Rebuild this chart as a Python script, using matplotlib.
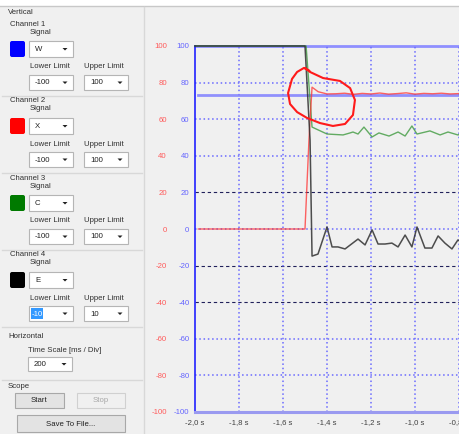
import matplotlib
matplotlib.use("Agg")
import matplotlib.pyplot as plt
from matplotlib.patches import Rectangle, FancyBboxPatch, Polygon

plt.rcParams['font.family'] = ['Liberation Sans', 'DejaVu Sans']

# ---- data ----
x_ticks = [-2.0, -1.8, -1.6, -1.4, -1.2, -1.0, -0.8, -0.6]
x_labels = ['-2,0 s', '-1,8 s', '-1,6 s', '-1,4 s', '-1,2 s', '-1,0 s', '-0,8 s', '-0,6 s']
y_ticks = [-100, -80, -60, -40, -20, 0, 20, 40, 60, 80, 100]
dark_grid = [20, -20, -40]

blue_t = [-1.985, -0.6]
blue_v = [73.2, 73.2]

red_t = [-1.985, -1.500, -1.482, -1.468, -1.440, -1.400, -1.360, -1.320, -1.280, -1.240,
         -1.200, -1.160, -1.120, -1.080, -1.040, -1.000, -0.960, -0.920, -0.880, -0.840,
         -0.800, -0.760]
red_v = [0, 0, 48.6, 77.5, 75.0, 73.8, 73.9, 74.2, 73.6, 74.1,
         73.8, 74.3, 73.7, 74.0, 74.4, 73.7, 74.1, 73.9, 74.2, 73.8,
         74.0, 74.1]

green_t = [-2.0, -1.495, -1.468, -1.400, -1.327, -1.295, -1.282, -1.259, -1.232, -1.195,
           -1.164, -1.118, -1.077, -1.045, -1.014, -0.991, -0.932, -0.886, -0.850, -0.805,
           -0.780]
green_v = [100, 100, 55.7, 51.9, 51.4, 52.5, 53.0, 51.9, 55.7, 50.3,
           52.5, 50.8, 53.0, 50.8, 56.3, 51.9, 53.6, 51.4, 53.0, 51.4,
           52.5]

black_t = [-2.0, -1.500, -1.477, -1.468, -1.441, -1.400, -1.377, -1.350, -1.318, -1.259,
           -1.227, -1.195, -1.168, -1.136, -1.105, -1.077, -1.045, -1.014, -0.991, -0.955,
           -0.923, -0.895, -0.864, -0.832, -0.805, -0.780]
black_v = [100, 100, 48.6, -14.8, -13.7, 1.1, -9.8, -9.8, -10.9, -5.5,
           -8.7, -0.5, -8.2, -8.2, -7.7, -9.8, -3.3, -9.8, 1.1, -10.4,
           -10.4, -3.8, -7.7, -10.9, -6.0, -8.0]

# hand drawn red loop
loop_t = [-1.500, -1.477, -1.418, -1.341, -1.295, -1.273, -1.282, -1.318, -1.373, -1.432,
          -1.491, -1.536, -1.568, -1.577, -1.559, -1.536, -1.505, -1.480]
loop_v = [88.0, 85.8, 82.5, 80.9, 77.0, 70.5, 62.3, 57.4, 56.3, 57.9,
          60.7, 63.9, 68.3, 74.3, 82.0, 85.8, 88.0, 86.5]

# left control panel
channels = ['Channel 1', 'Channel 2', 'Channel 3', 'Channel 4']
signals = ['W', 'X', 'C', 'E']
swatches = ['#0000ff', '#ff0000', '#007a00', '#000000']
lower = ['-100', '-100', '-100', '-10']
upper = ['100', '100', '100', '10']

BG = '#f0f0f0'
TXT = '#303030'
FS = 5.6

fig = plt.figure(figsize=(4.6, 4.34), dpi=100, facecolor=BG)

# ---------- panel (pixel coordinates) ----------
pa = fig.add_axes([0, 0, 1, 1], zorder=0)
pa.set_xlim(0, 460)
pa.set_ylim(434, 0)
pa.axis('off')
pa.add_patch(Rectangle((0, 0), 460, 6, facecolor='white', edgecolor='none'))
pa.plot([0, 460], [6, 6], color='#c8c8c8', lw=1)
pa.plot([144, 144], [7, 434], color='#d8d8d8', lw=1)


def dropdown(x, y, w, h, label, sel=False):
    pa.add_patch(Rectangle((x, y), w, h, facecolor='white', edgecolor='#b5b5b5', lw=0.8))
    if sel:
        pa.add_patch(Rectangle((x + 2, y + 2), 12, h - 4, facecolor='#3399ff', edgecolor='none'))
        pa.text(x + 3, y + h / 2 + 0.5, label, fontsize=FS, color='white', va='center')
    else:
        pa.text(x + 6, y + h / 2 + 0.5, label, fontsize=FS, color='#202020', va='center')
    ax0 = x + w - 8
    pa.add_patch(Polygon([[ax0 - 2.5, y + h / 2 - 1], [ax0 + 2.5, y + h / 2 - 1], [ax0, y + h / 2 + 1.5]],
                         closed=True, facecolor='#202020', edgecolor='none'))


def button(x, y, w, h, label, enabled=True):
    pa.add_patch(Rectangle((x, y), w, h, facecolor='#e3e3e3' if enabled else BG,
                           edgecolor='#a8a8a8' if enabled else '#d0d0d0', lw=0.8))
    pa.text(x + w / 2, y + h / 2 + 0.5, label, fontsize=FS, ha='center', va='center',
            color='#202020' if enabled else '#a8a8a8')


pa.text(8, 13, 'Vertical', fontsize=FS, color=TXT, va='center')
for i in range(4):
    y0 = 24 + 77 * i
    pa.text(10, y0, channels[i], fontsize=FS, color=TXT, va='center')
    pa.text(30, y0 + 8, 'Signal', fontsize=FS, color=TXT, va='center')
    pa.add_patch(FancyBboxPatch((10, y0 + 17), 15, 16, boxstyle='round,pad=0,rounding_size=2',
                                facecolor=swatches[i], edgecolor='none'))
    dropdown(29, y0 + 17, 44, 16, signals[i])
    pa.text(30, y0 + 43, 'Lower Limit', fontsize=FS, color=TXT, va='center')
    pa.text(84, y0 + 43, 'Upper Limit', fontsize=FS, color=TXT, va='center')
    dropdown(29, y0 + 51, 44, 15, lower[i], sel=(i == 3))
    dropdown(84, y0 + 51, 44, 15, upper[i])
    pa.plot([2, 142], [y0 + 72, y0 + 72], color='#d8d8d8', lw=1)

pa.text(8, 337, 'Horizontal', fontsize=FS, color=TXT, va='center')
pa.text(28, 350, 'Time Scale [ms / Div]', fontsize=FS, color=TXT, va='center')
dropdown(28, 357, 44, 14, '200')
pa.plot([2, 142], [380, 380], color='#d8d8d8', lw=1)
pa.text(8, 387, 'Scope', fontsize=FS, color=TXT, va='center')
button(15, 393, 49, 15, 'Start')
button(77, 393, 48, 15, 'Stop', enabled=False)
button(17, 415, 108, 17, 'Save To File...')

# ---------- scope plot ----------
W_PX = 308.0
ax = fig.add_axes([195 / 460, 22 / 434, W_PX / 460, 366 / 434], zorder=1)
ax.set_facecolor('none')
ax.set_xlim(-2.0, -0.6)
ax.set_ylim(-100, 100)

for lvl in y_ticks[1:-1]:
    if lvl in dark_grid:
        ax.axhline(lvl, color='#20205a', lw=0.8, ls=(0, (3, 2.5)), zorder=1)
    else:
        ax.axhline(lvl, color='#6a6aff', lw=1.1, ls=(0, (1, 1.8)), zorder=1)
for xv in x_ticks[1:]:
    ax.axvline(xv, color='#6a6aff', lw=1.1, ls=(0, (1, 1.8)), zorder=1)

ax.plot(blue_t, blue_v, color='#7f7fff', lw=2, alpha=0.85, zorder=2)
ax.plot(green_t, green_v, color='#3f9a3f', lw=1, alpha=0.8, zorder=3, clip_on=False)
ax.plot(red_t, red_v, color='#ff3030', lw=1, alpha=0.75, zorder=4, clip_on=False)
ax.plot(black_t, black_v, color='#303030', lw=1.1, alpha=0.85, zorder=5, clip_on=False)
ax.plot(loop_t, loop_v, color='#ff1a1a', lw=1.5, zorder=6, solid_capstyle='round')

for s in ['right']:
    ax.spines[s].set_visible(False)
ax.spines['left'].set_color('#2222ff')
ax.spines['left'].set_linewidth(1.2)
ax.spines['top'].set_color('#8f8fff')
ax.spines['top'].set_linewidth(2)
ax.spines['bottom'].set_color('#9a9af0')
ax.spines['bottom'].set_linewidth(2.2)
ax.spines['top'].set_zorder(0.5)

ax.set_xticks(x_ticks)
ax.set_xticklabels(x_labels)
ax.set_yticks(y_ticks)
ax.set_yticklabels([str(v) for v in y_ticks])
ax.tick_params(axis='x', length=0, pad=5, labelsize=FS, labelcolor='#404040')
ax.tick_params(axis='y', length=0, pad=4, labelsize=FS, labelcolor='#6464ff')

sec = ax.secondary_yaxis(-28 / W_PX)
sec.set_yticks(y_ticks)
sec.set_yticklabels([str(v) for v in y_ticks])
sec.tick_params(length=0, pad=0, labelsize=FS, labelcolor='#ff5a5a')
sec.spines['left'].set_visible(False)

fig.savefig('out.png', dpi=100, facecolor=BG)
